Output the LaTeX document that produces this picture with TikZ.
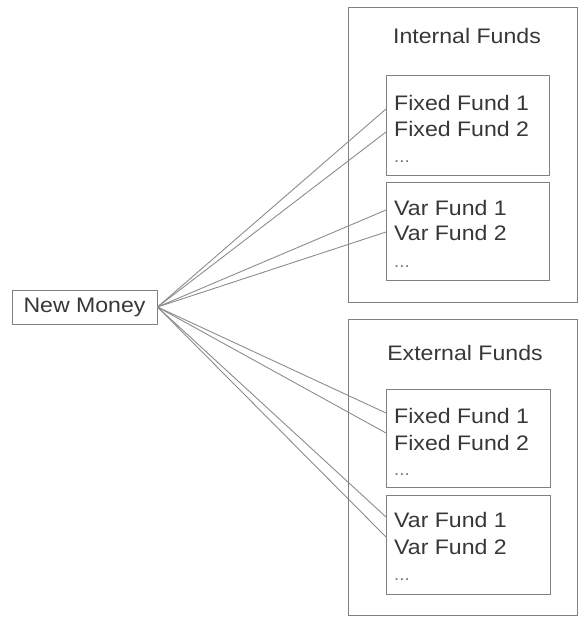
\documentclass[tikz,border=0pt]{standalone}
\usepackage{fontspec}
\setmainfont[FakeStretch=1.1]{Liberation Sans}
\definecolor{boxgray}{RGB}{128,128,128}
\definecolor{linegray}{RGB}{140,140,140}
\definecolor{txtgray}{RGB}{55,55,55}
\definecolor{dotgray}{RGB}{120,120,120}
\begin{document}
\begin{tikzpicture}[x=1pt,y=-1pt,
  box/.style={draw=boxgray,line width=1pt,inner sep=0pt,anchor=north west},
  lbl/.style={text=txtgray,font=\fontsize{21}{24}\selectfont,inner sep=0pt,anchor=west},
  dots/.style={text=dotgray,font=\fontsize{17}{20}\selectfont,inner sep=0pt,anchor=west},
  ttl/.style={text=txtgray,font=\fontsize{21}{24}\selectfont,inner sep=0pt},
  conn/.style={draw=linegray,line width=0.9pt}]
\useasboundingbox (0,0) rectangle (579,617);
% New Money
\node[draw=boxgray,line width=1pt,minimum width=145pt,minimum height=34pt,inner sep=0pt,
      text=txtgray,font=\fontsize{21}{24}\selectfont] (nm) at (84.5,307) {New Money};
% Internal
\node[box,minimum width=229pt,minimum height=295pt] (int) at (348,7) {};
\node[ttl] (intt) at (467,36) {Internal Funds};
\node[box,minimum width=163pt,minimum height=100pt] (ifix) at (386,75) {};
\node[lbl] (ifix1) at (394,103) {Fixed Fund 1};
\node[lbl] (ifix2) at (394,129) {Fixed Fund 2};
\node[dots] (ifix3) at (394,162) {...};
\node[box,minimum width=163pt,minimum height=98pt] (ivar) at (386,182) {};
\node[lbl] (ivar1) at (394,208) {Var Fund 1};
\node[lbl] (ivar2) at (394,233) {Var Fund 2};
\node[dots] (ivar3) at (394,267) {...};
% External
\node[box,minimum width=229pt,minimum height=296pt] (ext) at (348,319) {};
\node[ttl] (extt) at (465,353) {External Funds};
\node[box,minimum width=164pt,minimum height=98pt] (efix) at (386,389) {};
\node[lbl] (efix1) at (394,416) {Fixed Fund 1};
\node[lbl] (efix2) at (394,443) {Fixed Fund 2};
\node[dots] (efix3) at (394,475) {...};
\node[box,minimum width=164pt,minimum height=99pt] (evar) at (386,495) {};
\node[lbl] (evar1) at (394,520) {Var Fund 1};
\node[lbl] (evar2) at (394,547) {Var Fund 2};
\node[dots] (evar3) at (394,580) {...};
% connection end points on the inner box edges
\coordinate (c1) at (386,109);
\coordinate (c2) at (386,132);
\coordinate (c3) at (386,210);
\coordinate (c4) at (386,232);
\coordinate (c5) at (386,413);
\coordinate (c6) at (386,433);
\coordinate (c7) at (386,517);
\coordinate (c8) at (386,537);
\coordinate (src) at (nm.east);
\foreach \c in {c1,c2,c3,c4,c5,c6,c7,c8}
  \draw[conn] (src) -- (\c);
\end{tikzpicture}
\end{document}
